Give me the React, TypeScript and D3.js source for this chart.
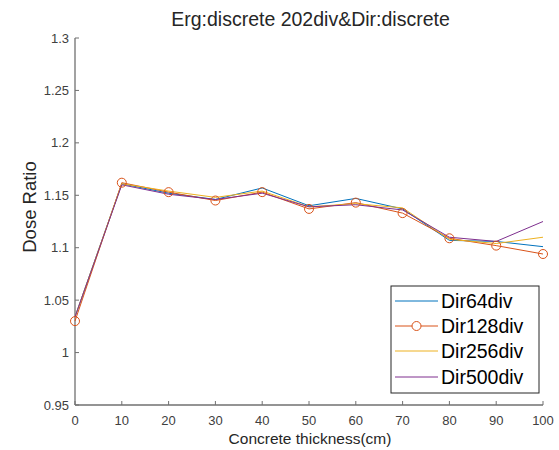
import React from "react";
import * as d3 from "d3";

const xValues = [0, 10, 20, 30, 40, 50, 60, 70, 80, 90, 100];
const dir64 = [1.034, 1.161, 1.152, 1.146, 1.157, 1.140, 1.147, 1.137, 1.107, 1.106, 1.101];
const dir128 = [1.030, 1.162, 1.153, 1.145, 1.153, 1.137, 1.143, 1.133, 1.109, 1.102, 1.094];
const dir256 = [1.034, 1.161, 1.154, 1.148, 1.154, 1.139, 1.142, 1.138, 1.108, 1.104, 1.110];
const dir500 = [1.034, 1.160, 1.151, 1.146, 1.152, 1.139, 1.141, 1.136, 1.110, 1.106, 1.125];
const seriesNames = ["Dir64div", "Dir128div", "Dir256div", "Dir500div"];
const seriesColors = ["#0072BD", "#D95319", "#EDB120", "#7E2F8E"];
const xTicks = [0, 10, 20, 30, 40, 50, 60, 70, 80, 90, 100];
const yTicks = [0.95, 1, 1.05, 1.1, 1.15, 1.2, 1.25, 1.3];
const titleText = "Erg:discrete 202div&Dir:discrete";
const xLabel = "Concrete thickness(cm)";
const yLabel = "Dose Ratio";

const W = 559;
const H = 450;
const m = { left: 75, right: 543, top: 38, bottom: 405 };
const font = "'Liberation Sans', Arial, Helvetica, sans-serif";

export default function App() {
  const x = d3.scaleLinear().domain([0, 100]).range([m.left, m.right]);
  const y = d3.scaleLinear().domain([0.95, 1.3]).range([m.bottom, m.top]);
  const series = [dir64, dir128, dir256, dir500];
  const line = d3
    .line<number>()
    .x((_, i) => x(xValues[i]))
    .y((d) => y(d));
  const axisColor = "#707070";
  const tickColor = "#404040";
  const legend = { x: 391, y: 286, w: 148, h: 107 };
  const rowY = [301, 326, 351, 377];

  return (
    <svg
      width={W}
      height={H}
      style={{ position: "absolute", left: 0, top: 0, background: "#fff" }}
      fontFamily={font}
    >
      <rect x={0} y={0} width={W} height={H} fill="#fff" />
      {/* axes */}
      <line x1={m.left} x2={m.left} y1={m.top} y2={m.bottom} stroke={axisColor} strokeWidth={1.3} />
      <line x1={m.left} x2={m.right} y1={m.bottom} y2={m.bottom} stroke={axisColor} strokeWidth={1.3} />
      {yTicks.map((t) => (
        <g key={"y" + t}>
          <line x1={m.left} x2={m.left + 4} y1={y(t)} y2={y(t)} stroke={axisColor} strokeWidth={1} />
          <text x={m.left - 6} y={y(t)} dy="0.35em" textAnchor="end" fontSize={13} fill={tickColor}>
            {String(t)}
          </text>
        </g>
      ))}
      {xTicks.map((t) => (
        <g key={"x" + t}>
          <line x1={x(t)} x2={x(t)} y1={m.bottom} y2={m.bottom - 4} stroke={axisColor} strokeWidth={1} />
          <text x={x(t)} y={m.bottom + 20} textAnchor="middle" fontSize={13} fill={tickColor}>
            {String(t)}
          </text>
        </g>
      ))}
      {/* series */}
      {series.map((s, k) => (
        <path key={k} d={line(s) || ""} fill="none" stroke={seriesColors[k]} strokeWidth={1} />
      ))}
      {dir128.map((v, i) => (
        <circle key={i} cx={x(xValues[i])} cy={y(v)} r={4.5} fill="none" stroke={seriesColors[1]} strokeWidth={1} />
      ))}
      {/* labels */}
      <text x={310.5} y={26} textAnchor="middle" fontSize={19.5} fill="#262626">
        {titleText}
      </text>
      <text x={310} y={444} textAnchor="middle" fontSize={15.5} fill="#262626">
        {xLabel}
      </text>
      <text
        transform={`translate(36, 207) rotate(-90)`}
        textAnchor="middle"
        fontSize={18.5}
        fill="#262626"
      >
        {yLabel}
      </text>
      {/* legend */}
      <rect x={legend.x} y={legend.y} width={legend.w} height={legend.h} fill="#fff" stroke="#262626" strokeWidth={1} />
      {seriesNames.map((n, k) => (
        <g key={n}>
          <line x1={395} x2={438} y1={rowY[k]} y2={rowY[k]} stroke={seriesColors[k]} strokeWidth={1} />
          {k === 1 && <circle cx={416.5} cy={rowY[k]} r={4.5} fill="#fff" stroke={seriesColors[1]} strokeWidth={1} />}
          <text x={441} y={rowY[k]} dy="0.35em" fontSize={19.5} fill="#000">
            {n}
          </text>
        </g>
      ))}
    </svg>
  );
}
